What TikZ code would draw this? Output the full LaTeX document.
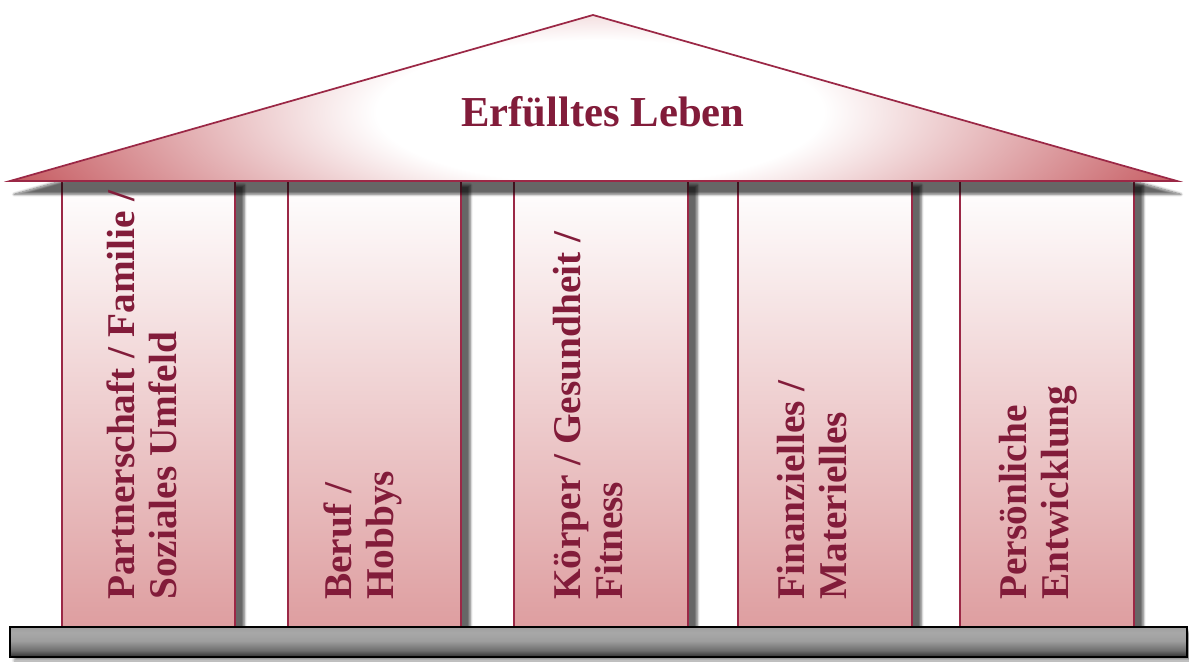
\documentclass[tikz,border=0pt]{standalone}
\usepackage{fontspec}
\setmainfont{Liberation Serif}
\usetikzlibrary{shadows.blur}
\definecolor{rim}{RGB}{155,40,70}
\definecolor{txt}{RGB}{130,28,58}
\definecolor{roofred}{RGB}{198,92,98}
\definecolor{pinkbot}{RGB}{222,158,160}
\pgfdeclareradialshading{roofshade}{\pgfpoint{0bp}{0bp}}{color(0bp)=(white); color(9bp)=(white); color(25bp)=(roofred); color(50bp)=(roofred)}
\pgfdeclareverticalshading{baseshade}{100bp}{color(0bp)=(rgb,255:red,45;green,45;blue,45); color(25bp)=(rgb,255:red,45;green,45;blue,45); color(36bp)=(rgb,255:red,110;green,110;blue,110); color(52bp)=(rgb,255:red,158;green,158;blue,158); color(66bp)=(rgb,255:red,168;green,168;blue,168); color(75bp)=(rgb,255:red,158;green,158;blue,158); color(100bp)=(rgb,255:red,158;green,158;blue,158)}
\tikzset{
  pillar/.style={draw=rim, line width=1.3pt, top color=white, bottom color=pinkbot,
    blur shadow={shadow xshift=7pt, shadow yshift=-3pt, shadow opacity=60, shadow blur steps=8}},
  roofback/.style={fill=roofred,
    blur shadow={shadow xshift=3pt, shadow yshift=-10pt, shadow opacity=60, shadow blur steps=8}},
  roofline/.style={draw=rim, line width=1.3pt, line join=miter},
  base/.style={draw=black, line width=1.5pt, shading=baseshade,
    blur shadow={shadow xshift=3pt, shadow yshift=-3pt, shadow opacity=40, shadow blur steps=6}},
  ptext/.style={rotate=90, anchor=west, align=left, text=txt, font=\fontsize{29.5}{31.5}\selectfont\bfseries, inner sep=0pt},
  ttext/.style={text=txt, font=\fontsize{32}{36}\selectfont\bfseries}
}
\begin{document}
\begin{tikzpicture}[x=0.75pt, y=-0.75pt]
\useasboundingbox (0,0) rectangle (1189,661);
% pillars
\path[pillar] (62,181) rectangle (235,627);
\path[pillar] (288,181) rectangle (461,627);
\path[pillar] (514,181) rectangle (688,627);
\path[pillar] (738,181) rectangle (912,627);
\path[pillar] (960,181) rectangle (1134,627);
% roof
\path[roofback] (10,181) -- (593,15) -- (1177,181) -- cycle;
\begin{scope}
  \clip (10,181) -- (593,15) -- (1177,181) -- cycle;
  \path[shading=roofshade] (600,112) ellipse [x radius=620, y radius=200];
\end{scope}
\draw[roofline] (10,181) -- (593,15) -- (1177,181) -- cycle;
\node[ttext] (title) at (603,112) {Erfülltes Leben};
% base
\path[base] (10,627) rectangle (1187,657);
% pillar texts
\node[ptext] (p1) at (142,600) {Partnerschaft / Familie /\\Soziales Umfeld};
\node[ptext] (p2) at (363,600) {Beruf /\\Hobbys};
\node[ptext] (p3) at (588,600) {Körper / Gesundheit /\\Fitness};
\node[ptext] (p4) at (812,600) {Finanzielles /\\Materielles};
\node[ptext] (p5) at (1038,600) {Persönliche\\Entwicklung};
\end{tikzpicture}
\end{document}
